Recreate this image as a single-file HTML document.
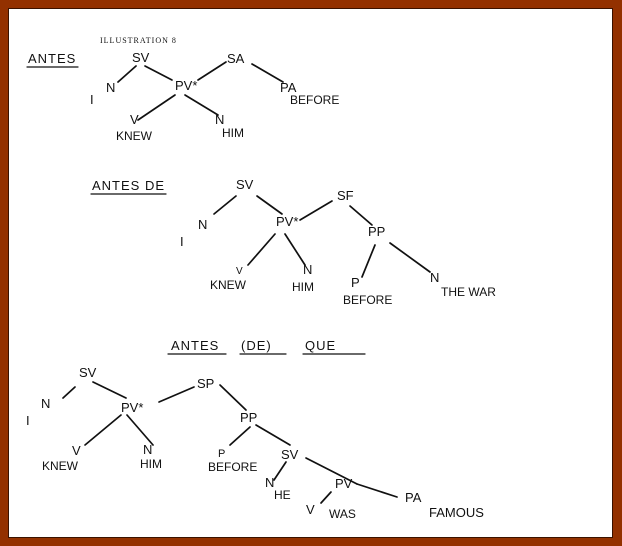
<!DOCTYPE html>
<html><head><meta charset="utf-8"><style>
html,body{margin:0;padding:0}
body{width:622px;height:546px;background:#933100;position:relative;overflow:hidden}
#w{position:absolute;left:9px;top:9px;width:603px;height:528px;background:#fff;box-shadow:0 0 0 1px #3a1200}
svg{position:absolute;left:0;top:0}
text{font-family:"Liberation Sans",sans-serif;font-size:13px;fill:#111}
line{stroke:#111;stroke-width:1.7;stroke-linecap:round}
</style></head><body><div id="w"></div>
<svg width="622" height="546" viewBox="0 0 622 546">
<text x="100" y="43" style="font-family:'Liberation Serif',serif;font-size:8px;letter-spacing:1px">ILLUSTRATION 8</text>
<text x="28" y="63" style="letter-spacing:1px">ANTES</text><line x1="27" y1="67" x2="78" y2="67" style="stroke-width:1.2"/>
<text x="132" y="62">SV</text><text x="227" y="63">SA</text>
<text x="90" y="104">I</text><text x="106" y="92">N</text>
<text x="175" y="90">PV*</text>
<text x="280" y="92">PA</text><text x="290" y="104" style="font-size:12px">BEFORE</text>
<text x="130" y="124">V</text><text x="116" y="140" style="font-size:12px">KNEW</text>
<text x="215" y="124">N</text><text x="222" y="137" style="font-size:12px">HIM</text>
<line x1="136" y1="66" x2="118" y2="82"/><line x1="145" y1="66" x2="172" y2="80"/>
<line x1="226" y1="62" x2="198" y2="80"/><line x1="252" y1="64" x2="283" y2="82"/>
<line x1="175" y1="95" x2="138" y2="120"/><line x1="185" y1="95" x2="218" y2="115"/>

<text x="92" y="190" style="letter-spacing:1px">ANTES DE</text><line x1="91" y1="194" x2="166" y2="194" style="stroke-width:1.2"/>
<text x="236" y="189">SV</text><text x="337" y="200">SF</text>
<text x="180" y="246">I</text><text x="198" y="229">N</text>
<text x="276" y="226">PV*</text><text x="368" y="236">PP</text>
<text x="236" y="274" style="font-size:10px">V</text><text x="210" y="289" style="font-size:12px">KNEW</text>
<text x="303" y="274">N</text><text x="292" y="291" style="font-size:12px">HIM</text>
<text x="351" y="287">P</text><text x="343" y="304" style="font-size:12px">BEFORE</text>
<text x="430" y="282">N</text><text x="441" y="296" style="font-size:12px">THE WAR</text>
<line x1="236" y1="196" x2="214" y2="214"/><line x1="257" y1="196" x2="282" y2="214"/>
<line x1="332" y1="201" x2="300" y2="220"/><line x1="350" y1="206" x2="372" y2="225"/>
<line x1="275" y1="234" x2="248" y2="265"/><line x1="285" y1="234" x2="305" y2="265"/>
<line x1="375" y1="245" x2="362" y2="277"/><line x1="390" y1="243" x2="430" y2="272"/>

<text x="171" y="350" style="letter-spacing:1px">ANTES</text><line x1="168" y1="354" x2="226" y2="354" style="stroke-width:1.2"/>
<text x="241" y="350" style="letter-spacing:1px">(DE)</text><line x1="240" y1="354" x2="286" y2="354" style="stroke-width:1.2"/>
<text x="305" y="350" style="letter-spacing:1px">QUE</text><line x1="303" y1="354" x2="365" y2="354" style="stroke-width:1.2"/>
<text x="79" y="377">SV</text>
<text x="26" y="425">I</text><text x="41" y="408">N</text>
<text x="121" y="412">PV*</text><text x="197" y="388">SP</text>
<text x="240" y="422">PP</text>
<text x="72" y="455">V</text><text x="42" y="470" style="font-size:12px">KNEW</text>
<text x="143" y="454">N</text><text x="140" y="468" style="font-size:12px">HIM</text>
<text x="218" y="457" style="font-size:11px">P</text><text x="208" y="471" style="font-size:12px">BEFORE</text>
<text x="281" y="459">SV</text>
<text x="265" y="487">N</text><text x="274" y="499" style="font-size:12px">HE</text>
<text x="335" y="488">PV</text>
<text x="306" y="514">V</text><text x="329" y="518" style="font-size:12px">WAS</text>
<text x="405" y="502">PA</text><text x="429" y="517">FAMOUS</text>
<line x1="75" y1="387" x2="63" y2="398"/><line x1="93" y1="382" x2="126" y2="398"/>
<line x1="194" y1="387" x2="159" y2="402"/><line x1="220" y1="385" x2="246" y2="410"/>
<line x1="121" y1="415" x2="85" y2="445"/><line x1="127" y1="415" x2="153" y2="445"/>
<line x1="250" y1="427" x2="230" y2="445"/><line x1="256" y1="425" x2="290" y2="445"/>
<line x1="286" y1="462" x2="274" y2="480"/><line x1="306" y1="458" x2="357" y2="484"/>
<line x1="331" y1="492" x2="321" y2="503"/><line x1="357" y1="484" x2="397" y2="497"/>
</svg></body></html>
